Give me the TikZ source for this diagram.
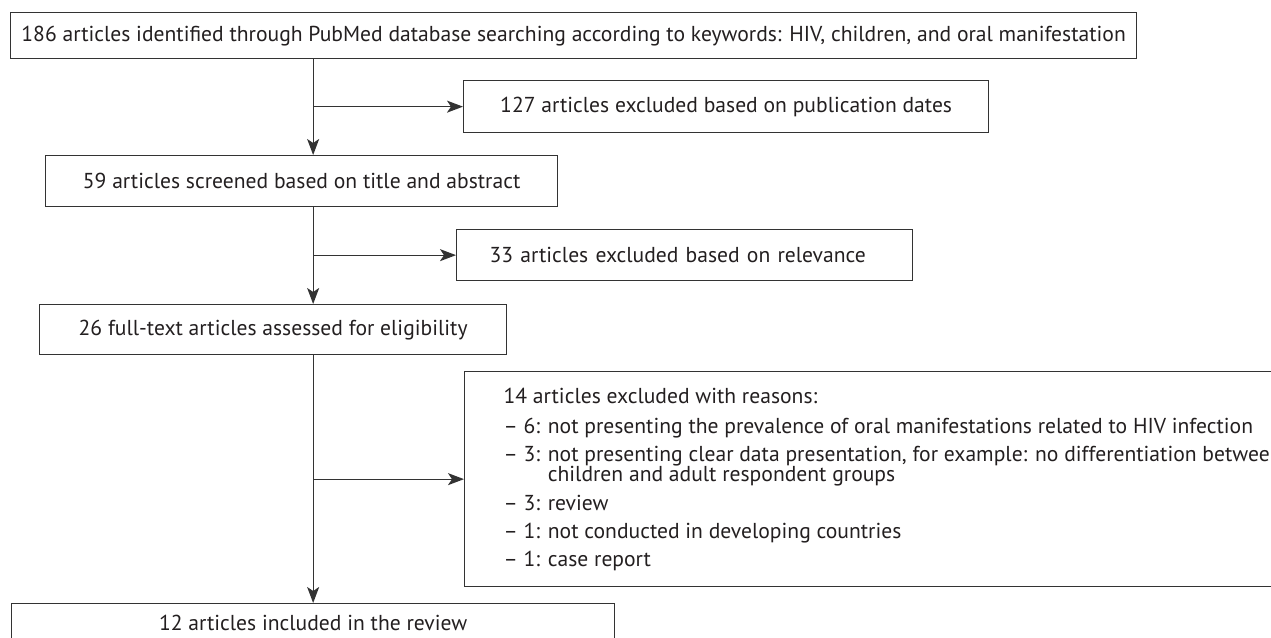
\documentclass[tikz,border=0pt]{standalone}
\usepackage{fontspec}
\setmainfont{PT Sans}
\usepackage{xcolor}
\definecolor{cLine}{HTML}{333333}
\definecolor{cText}{HTML}{231F20}
\usetikzlibrary{positioning,arrows.meta}
\newcommand{\flowfont}{\fontsize{21.6}{20}\selectfont\lineskiplimit=-20pt\relax}
\tikzset{
  node-box/.style={draw=cLine,line width=1.3pt,anchor=north west,
    inner sep=0pt,align=center,text=cText,font={\flowfont}},
  node-left/.style={align=left,inner xsep=33pt},
  arrow/.style={-{Stealth[length=16pt,width=12pt,inset=4pt]},line width=1.3pt,draw=cLine},
}
\begin{document}
\begin{tikzpicture}[x=1pt,y=-1pt]
  \useasboundingbox (0,0) rectangle (1271,637);
  \node[node-box,minimum width=1126pt,minimum height=46pt] (s-found) at (10,12)
    {186 articles identified through PubMed database searching according to keywords: HIV, children, and oral manifestation};
  \node[node-box,minimum width=525pt,minimum height=52pt] (s-dates) at (463,80)
    {127 articles excluded based on publication dates};
  \node[node-box,minimum width=512pt,minimum height=51pt] (s-screen) at (45,155)
    {59 articles screened based on title and abstract};
  \node[node-box,node-left,text width=390pt,minimum height=51pt] (s-relev) at (456,229)
    {33 articles excluded based on relevance};
  \node[node-box,minimum width=467pt,minimum height=50pt] (s-full) at (39,304)
    {26 full-text articles assessed for eligibility};
  \node[node-box,align=left,inner xsep=39pt,minimum height=215pt] (s-reasons) at (464,371)
    {14 articles excluded with reasons:\\[10pt]
     -- 6: not presenting the prevalence of oral manifestations related to HIV infection\\[8pt]
     -- 3: not presenting clear data presentation, for example: no differentiation between\\
     \hphantom{-- 3: }children and adult respondent groups\\[9pt]
     -- 3: review\\[8pt]
     -- 1: not conducted in developing countries\\[8pt]
     -- 1: case report};
  \node[node-box,minimum width=603pt,minimum height=38pt] (s-incl) at (11,603)
    {12 articles included in the review};

  % main flow along the left column
  \draw[arrow] (s-found.south -| s-incl.north) -- (s-screen.north -| s-incl.north);
  \draw[arrow] (s-screen.south -| s-incl.north) -- (s-full.north -| s-incl.north);
  \draw[arrow] (s-full.south -| s-incl.north) -- (s-incl.north);
  % exclusions
  \draw[arrow] (s-dates.west -| s-incl.north) -- (s-dates.west);
  \draw[arrow] (s-relev.west -| s-incl.north) -- (s-relev.west);
  \draw[arrow] (s-reasons.west -| s-incl.north) -- (s-reasons.west);
\end{tikzpicture}
\end{document}
